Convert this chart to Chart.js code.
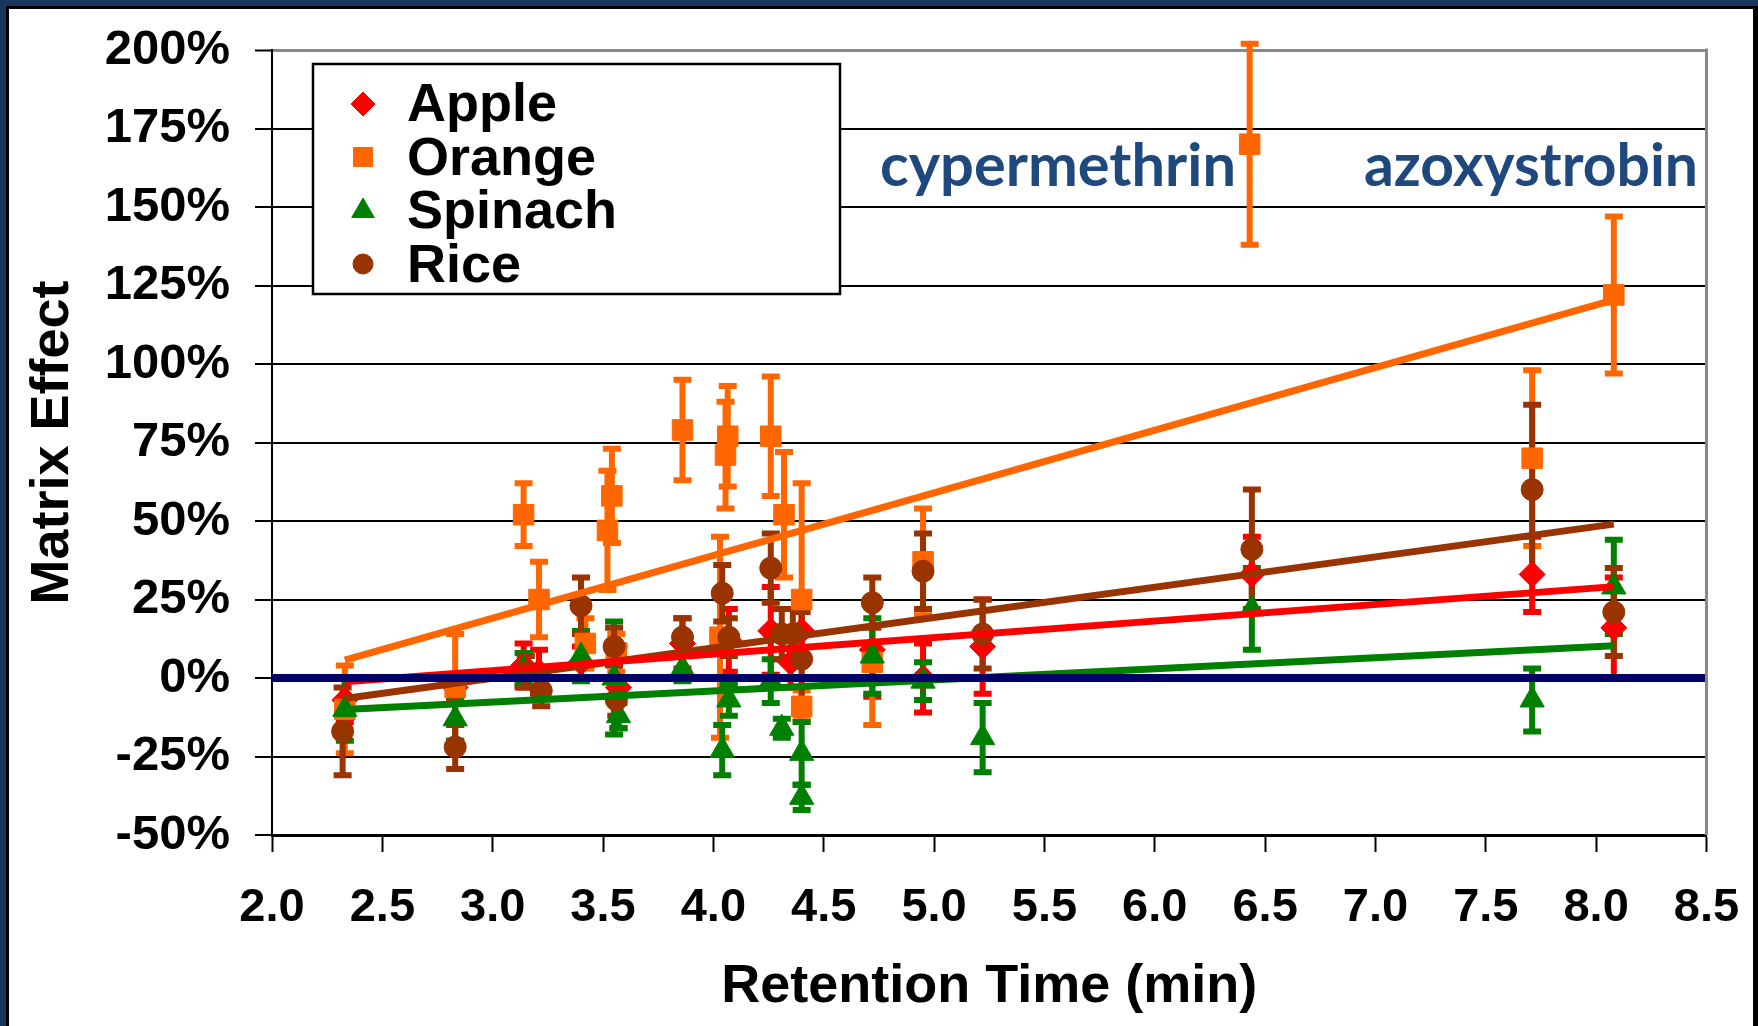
<!DOCTYPE html>
<html>
<head>
<meta charset="utf-8">
<title>Matrix Effect vs Retention Time</title>
<script src="https://cdn.jsdelivr.net/npm/chart.js@4.4.1/dist/chart.umd.min.js"></script>
<style>
  html, body { margin: 0; padding: 0; background: #fff; }
  #wrap { width: 1758px; height: 1026px; }
</style>
</head>
<body>
<div id="wrap"><canvas id="chart" width="1758" height="1026"></canvas></div>
<script>
// ── Data ──────────────────────────────────────────────────────────────────────
const X_TICKS = [2.0, 2.5, 3.0, 3.5, 4.0, 4.5, 5.0, 5.5, 6.0, 6.5, 7.0, 7.5, 8.0, 8.5];
const Y_TICKS = [-50, -25, 0, 25, 50, 75, 100, 125, 150, 175, 200];

const appleX = [2.33, 2.83, 3.14, 3.21, 3.40, 3.57, 3.86, 4.07, 4.26, 4.35, 4.40, 4.72, 4.95, 5.22, 6.44, 7.71, 8.08];
const appleY = [-7, -3, 4, 2, 5, -3, 11, 12, 15, 5, 15, 9, 0, 10, 33, 33, 16];
const appleErr = [7, 4, 7, 7, 5, 13, 8, 10, 14, 8, 10, 15, 11, 15, 12, 12, 16];

const orangeX = [2.33, 2.83, 3.14, 3.21, 3.42, 3.52, 3.54, 3.56, 3.86, 4.03, 4.055, 4.065, 4.26, 4.32, 4.40, 4.40, 4.72, 4.95, 6.43, 7.71, 8.08];
const orangeY = [-10, -3, 52, 25, 11, 47, 58, 8, 79, 13, 71, 77, 77, 52, 25, -9, 5, 37, 170, 70, 122];
const orangeErr = [14, 17, 10, 12, 8, 19, 15, 6, 16, 32, 17, 16, 19, 20, 37, 5, 20, 17, 32, 28, 25];

const spinachX = [2.33, 2.83, 3.14, 3.40, 3.55, 3.57, 3.86, 4.04, 4.07, 4.26, 4.31, 4.40, 4.40, 4.72, 4.95, 5.22, 6.44, 7.71, 8.08];
const spinachY = [-10, -13, 3, 7, 0, -12, 3, -23, -7, -1, -16, -24, -38, 7, -1, -19, 22, -7, 29];
const spinachErr = [10, 7, 5, 8, 18, 4, 4, 8, 5, 7, 3, 10, 4, 12, 6, 11, 13, 10, 15];

const riceX = [2.32, 2.83, 3.15, 3.22, 3.40, 3.55, 3.56, 3.86, 4.04, 4.07, 4.26, 4.31, 4.36, 4.40, 4.72, 4.95, 5.22, 6.44, 7.71, 8.08];
const riceY = [-17, -22, 2, -4, 23, 10, -7, 13, 27, 13, 35, 14, 14, 6, 24, 34, 14, 41, 60, 21];
const riceErr = [14, 7, 5, 5, 9, 6, 5, 6, 9, 6, 11, 8, 8, 15, 8, 12, 11, 19, 27, 14];

// linear trend lines, end points as drawn
const trendX = [2.33, 8.08];
const appleTrendY = [-1.2, 29.1];
const orangeTrendY = [5.7, 120.4];
const spinachTrendY = [-10, 10.3];
const riceTrendY = [-6.5, 49];

const zeroX = [2.0, 8.5];
const zeroY = [0, 0];

const SERIES = ['Apple', 'Orange', 'Spinach', 'Rice'];
const COLORS = { Apple: '#FF0000', Orange: '#FF6600', Spinach: '#008000', Rice: '#993300' };
const STYLES = { Apple: ['rectRot', 13], Orange: ['rect', 14.5], Spinach: ['triangle', 14], Rice: ['circle', 11] };

const NOTES = [['cypermethrin', 1058, 186, 356], ['azoxystrobin', 1531, 186, 334]];

function pts(xs, ys) { return xs.map((x, i) => ({ x: x, y: ys[i] })); }

// ── Plugins ───────────────────────────────────────────────────────────────────
const framePlugin = {
    id: 'frame',
    beforeDraw(chart) {
        const c = chart.ctx;
        c.save();
        c.fillStyle = '#fff';
        c.fillRect(0, 0, chart.width, chart.height);
        c.fillStyle = '#17375E';
        c.fillRect(0, 0, chart.width, 6);
        c.fillRect(0, 0, 6, chart.height);
        c.fillStyle = '#000';
        c.fillRect(6, 6, chart.width - 6, 3);
        c.fillRect(6, 6, 3, chart.height - 6);
        c.fillRect(chart.width - 5, 6, 5, chart.height - 6);
        c.restore();
    },
};

const errorBarPlugin = {
    id: 'errorBars',
    beforeDatasetsDraw(chart) {
        const c = chart.ctx, xs = chart.scales.x, ys = chart.scales.y;
        c.save();
        c.lineWidth = 6;
        c.lineCap = 'butt';
        // Apple first, Rice last, so Rice bars sit on top
        chart.data.datasets.forEach((ds) => {
            if (!ds.errorBars) return;
            c.strokeStyle = ds.borderColor;
            ds.data.forEach((p, i) => {
                const e = ds.errorBars[i];
                const px = xs.getPixelForValue(p.x);
                const top = ys.getPixelForValue(p.y + e);
                const bot = ys.getPixelForValue(p.y - e);
                c.beginPath();
                c.moveTo(px, top); c.lineTo(px, bot);
                c.moveTo(px - 9, top); c.lineTo(px + 9, top);
                c.moveTo(px - 9, bot); c.lineTo(px + 9, bot);
                c.stroke();
            });
        });
        c.restore();
    },
};

const overlayPlugin = {
    id: 'overlay',
    afterDraw(chart) {
        const c = chart.ctx, a = chart.chartArea;
        c.save();
        // right border of plot area
        c.strokeStyle = '#888';
        c.lineWidth = 3;
        c.beginPath();
        c.moveTo(a.right, a.top - 1.5); c.lineTo(a.right, a.bottom);
        c.stroke();

        // legend box
        c.fillStyle = '#fff';
        c.fillRect(313, 64, 527, 230);
        c.strokeStyle = '#000';
        c.lineWidth = 2.5;
        c.strokeRect(313, 64, 527, 230);
        const markY = [104, 157, 211, 264];
        const baseY = [121, 175, 228, 282];
        c.font = "bold 54px 'Liberation Sans', Arial, sans-serif";
        c.textBaseline = 'alphabetic';
        c.textAlign = 'left';
        SERIES.forEach((s, i) => {
            c.fillStyle = COLORS[s];
            c.strokeStyle = COLORS[s];
            c.lineWidth = 1;
            Chart.helpers.drawPoint(c, { pointStyle: STYLES[s][0], radius: STYLES[s][1] - 1, rotation: 0, borderWidth: 1 }, 363, markY[i]);
            c.fillStyle = '#000';
            c.fillText(s, 407, baseY[i]);
        });

        // compound labels
        c.fillStyle = '#1F497D';
        c.font = "bold 60px Lato, 'Open Sans', sans-serif";
        c.textAlign = 'center';
        NOTES.forEach(([t, x, y, w]) => c.fillText(t, x, y, w));
        c.restore();
    },
};

// ── Chart ─────────────────────────────────────────────────────────────────────
Chart.defaults.font.family = "'Liberation Sans', Arial, sans-serif";
Chart.defaults.color = '#000';

const scatterSets = SERIES.map((s, i) => {
    const src = { Apple: [appleX, appleY, appleErr], Orange: [orangeX, orangeY, orangeErr], Spinach: [spinachX, spinachY, spinachErr], Rice: [riceX, riceY, riceErr] }[s];
    return {
        label: s,
        data: pts(src[0], src[1]),
        errorBars: src[2],
        showLine: false,
        pointStyle: STYLES[s][0],
        pointRadius: STYLES[s][1],
        backgroundColor: COLORS[s],
        borderColor: COLORS[s],
        borderWidth: 1,
        order: 5 - i,
    };
});

const trendSets = [
    ['Apple', appleTrendY], ['Orange', orangeTrendY], ['Spinach', spinachTrendY], ['Rice', riceTrendY],
].map(([s, ys]) => ({
    label: s + ' trend',
    data: pts(trendX, ys),
    showLine: true,
    pointRadius: 0,
    borderColor: COLORS[s],
    borderWidth: 7,
    fill: false,
    order: 1,
}));

const zeroSet = {
    label: 'zero',
    data: pts(zeroX, zeroY),
    showLine: true,
    pointRadius: 0,
    borderColor: '#000066',
    borderWidth: 8,
    fill: false,
    order: 0,
    clip: false,
};

new Chart(document.getElementById('chart'), {
    type: 'scatter',
    data: { datasets: [...scatterSets, ...trendSets, zeroSet] },
    options: {
        responsive: false,
        animation: false,
        events: [],
        layout: { padding: { top: 50, right: 51.5, left: 0, bottom: 0 } },
        plugins: { legend: { display: false }, tooltip: { enabled: false } },
        scales: {
            x: {
                type: 'linear',
                min: 2, max: 8.5,
                afterBuildTicks: (s) => { s.ticks = X_TICKS.map(v => ({ value: v })); },
                afterFit: (s) => { s.height = 191; s.paddingLeft = 0; s.paddingRight = 0; },
                ticks: {
                    callback: (v) => Number(v).toFixed(1),
                    font: { size: 47, weight: 'bold', lineHeight: 1.2 },
                    color: '#000', padding: 28, maxRotation: 0, autoSkip: false,
                },
                grid: { drawOnChartArea: false, tickLength: 17, tickColor: '#000', tickWidth: 2 },
                border: { color: '#000', width: 3 },
                title: {
                    display: true, text: 'Retention Time (min)', color: '#000',
                    font: { size: 54, weight: 'bold', lineHeight: 1.2 },
                    padding: { top: 0, bottom: 6 },
                },
            },
            y: {
                type: 'linear',
                min: -50, max: 200,
                afterBuildTicks: (s) => { s.ticks = Y_TICKS.map(v => ({ value: v })); },
                afterFit: (s) => { s.width = 272; s.paddingTop = 0; s.paddingBottom = 0; },
                ticks: {
                    callback: (v) => v + '%',
                    font: { size: 49, weight: 'bold', lineHeight: 1.2 },
                    color: '#000', padding: 25,
                },
                grid: {
                    color: (c) => (c.tick && c.tick.value === 200 ? '#888' : '#000'),
                    lineWidth: (c) => (c.tick && c.tick.value === 200 ? 3 : 2),
                    tickColor: '#000', tickLength: 17, tickWidth: 2,
                },
                border: { color: '#000', width: 2 },
                title: {
                    display: true, text: 'Matrix Effect', color: '#000',
                    font: { size: 54, weight: 'bold', lineHeight: 1.2 },
                    padding: { top: 21, bottom: 0 },
                },
            },
        },
    },
    plugins: [framePlugin, errorBarPlugin, overlayPlugin],
});
</script>
</body>
</html>
